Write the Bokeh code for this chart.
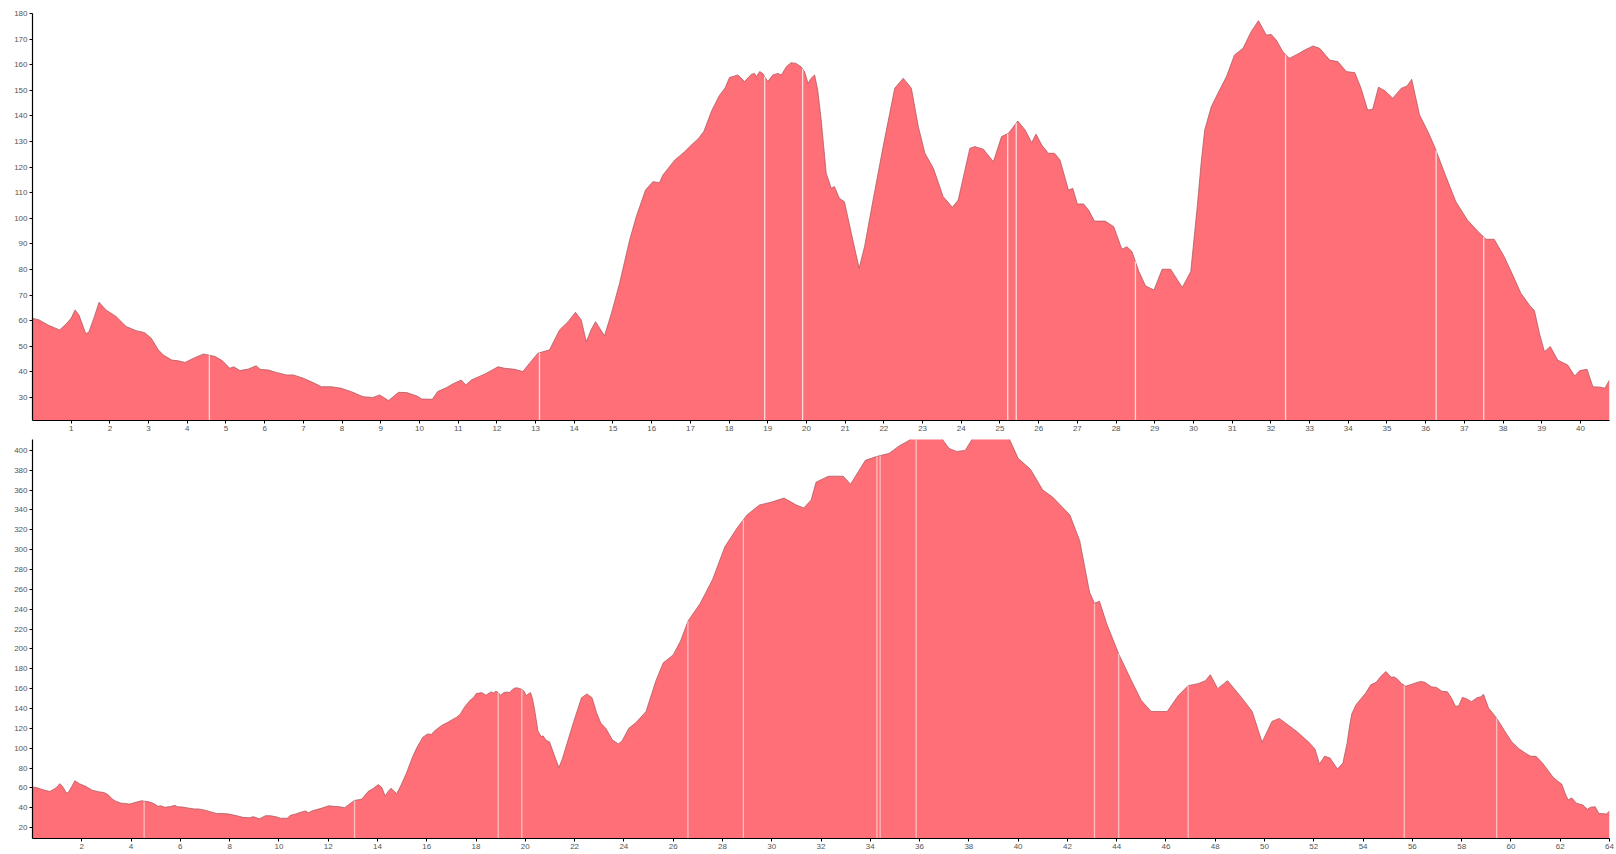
import numpy as np
from bokeh.plotting import figure
from bokeh.layouts import column
from bokeh.models import Range1d, FixedTicker
from bokeh.embed import file_html
from bokeh.resources import INLINE

# ---------------- data: top profile ----------------
top_x = [0.0, 0.17, 0.4, 0.7, 0.87, 1.0, 1.1, 1.2, 1.38, 1.46, 1.6, 1.72, 1.9, 2.16, 2.42, 2.68, 2.9,
         3.07, 3.25, 3.38, 3.6, 3.77, 3.94, 4.16, 4.42, 4.72, 4.9, 5.1, 5.2, 5.36, 5.58, 5.78, 5.88,
         6.1, 6.3, 6.56, 6.74, 7.0, 7.25, 7.47, 7.72, 7.98, 8.28, 8.54, 8.8, 8.97, 9.2, 9.46, 9.67,
         9.93, 10.06, 10.33, 10.47, 10.69, 10.86, 11.08, 11.2, 11.34, 11.5, 11.72, 12.03, 12.2, 12.46,
         12.67, 12.84, 13.06, 13.36, 13.62, 13.84, 14.03, 14.18, 14.31, 14.44, 14.55, 14.78, 14.96,
         15.17, 15.43, 15.6, 15.84, 16.03, 16.2, 16.29, 16.6, 16.85, 17.05, 17.2, 17.35, 17.55, 17.75,
         17.9, 18.01, 18.23, 18.4, 18.57, 18.66, 18.7, 18.79, 18.87, 19.0, 19.13, 19.26, 19.35, 19.48, 19.6,
         19.73, 19.86, 19.95, 20.04, 20.12, 20.21, 20.29, 20.38, 20.51, 20.64, 20.72, 20.85, 20.98,
         21.16, 21.36, 21.5, 21.72, 21.98, 22.28, 22.5, 22.71, 22.89, 23.06, 23.28, 23.53, 23.77,
         23.92, 24.22, 24.35, 24.57, 24.83, 25.04, 25.22, 25.46, 25.65, 25.82, 25.93, 26.08, 26.25,
         26.41, 26.55, 26.77, 26.88, 27.0, 27.16, 27.29, 27.44, 27.72, 27.94, 28.15, 28.28, 28.41,
         28.59, 28.76, 28.98, 29.19, 29.41, 29.71, 29.93, 30.1, 30.2, 30.29, 30.46, 30.63, 30.85,
         31.06, 31.28, 31.49, 31.68, 31.88, 32.01, 32.14, 32.31, 32.48, 32.7, 32.87, 33.09, 33.26,
         33.52, 33.73, 33.95, 34.17, 34.33, 34.5, 34.63, 34.78, 34.94, 35.15, 35.37, 35.52, 35.64,
         35.84, 36.06, 36.23, 36.49, 36.78, 37.08, 37.34, 37.56, 37.77, 38.03, 38.25, 38.46, 38.68,
         38.81, 38.94, 39.07, 39.22, 39.41, 39.67, 39.85, 39.98, 40.17, 40.32, 40.53, 40.63, 40.75]
top_y = [60.9, 60.3, 58.3, 56.4, 58.7, 61.0, 64.2, 62.2, 54.8, 55.7, 61.6, 67.2, 64.2, 61.6, 57.7, 56.1, 55.3,
         53.1, 48.6, 46.6, 44.6, 44.3, 43.7, 45.3, 47.0, 46.0, 44.4, 41.4, 42.0, 40.5, 41.1, 42.4, 41.0,
         40.7, 39.8, 38.8, 38.8, 37.5, 35.8, 34.2, 34.2, 33.6, 32.0, 30.3, 30.0, 31.0, 28.8, 32.0, 31.9,
         30.6, 29.4, 29.3, 32.3, 33.8, 35.3, 36.8, 34.9, 36.8, 37.9, 39.4, 42.0, 41.4, 41.0,
         40.1, 43.3, 47.3, 48.6, 56.4, 59.6, 63.3, 60.3, 51.8, 56.6, 59.6, 54.1, 62.9,
         74.6, 91.5, 100.6, 111.0, 114.3, 113.9, 116.9, 122.8, 126.0, 129.0, 131.0, 134.0, 142.0, 148.0,
         151.0, 155.0, 156.0, 153.4, 156.2, 156.6, 155.3, 157.3, 156.6, 153.4, 156.0, 156.6, 156.0, 159.2, 160.8,
         160.5, 159.2, 157.3, 152.7, 154.7, 156.0, 150.1, 138.4, 117.6, 111.7, 112.4, 107.8, 106.5,
         94.1, 80.5, 88.9, 107.1, 128.0, 150.8, 154.7, 150.8, 135.8, 125.4, 119.5, 108.5, 104.3,
         107.1, 127.3, 128.0, 127.0, 122.1, 131.9, 133.2, 138.0, 134.5, 129.5, 132.9, 128.6, 125.4,
         125.4, 122.8, 111.0, 111.7, 105.6, 105.6, 103.2, 98.9, 98.9, 96.7, 87.9, 88.9, 87.0,
         79.2, 73.6, 72.0, 80.1, 80.1, 73.0, 79.2, 105.0, 122.0, 134.5, 143.6, 148.8, 155.3,
         163.8, 166.4, 172.9, 177.2, 171.6, 171.8, 169.6, 165.1, 162.5, 164.2, 165.7, 167.3, 166.4,
         161.8, 161.2, 157.3, 156.9, 150.8, 142.3, 142.6, 151.2, 149.9, 146.9, 150.8, 151.7, 154.3,
         140.4, 133.8, 128.0, 117.6, 106.5, 99.3, 95.0, 91.8, 91.8, 85.0, 77.8, 70.7, 66.1,
         63.9, 55.0, 47.9, 49.9, 44.6, 42.7, 38.4, 40.5, 41.0, 34.2, 34.0, 33.6, 36.8]
top_breaks = [4.57, 13.1, 18.92, 19.9, 25.2, 25.42, 28.5, 32.38, 36.27, 37.5]

# ---------------- data: bottom profile ----------------
bot_x = [0.0, 0.17, 0.4, 0.7, 0.87, 1.0, 1.1, 1.2, 1.38, 1.46, 1.6, 1.72, 1.9, 2.16, 2.42, 2.68, 2.9,
         3.07, 3.25, 3.38, 3.6, 3.77, 3.94, 4.16, 4.42, 4.72, 4.9, 5.1, 5.2, 5.36, 5.58, 5.78, 5.88,
         6.1, 6.3, 6.56, 6.74, 7.0, 7.25, 7.47, 7.72, 7.98, 8.28, 8.54, 8.8, 8.97, 9.2, 9.46, 9.67,
         9.93, 10.06, 10.33, 10.47, 10.69, 10.86, 11.08, 11.2, 11.34, 11.5, 11.72, 12.03, 12.2, 12.46,
         12.67, 12.84, 13.06, 13.36, 13.62, 13.84, 14.03, 14.18, 14.31, 14.44, 14.55, 14.78, 14.96,
         15.17, 15.43, 15.6, 15.84, 16.03, 16.2, 16.29, 16.6, 16.85, 17.05, 17.2, 17.35, 17.55, 17.75,
         17.9, 18.01, 18.23, 18.4, 18.57, 18.66, 18.7, 18.79, 18.87, 19.0, 19.13, 19.26, 19.35, 19.48, 19.6,
         19.73, 19.86, 19.95, 20.04, 20.12, 20.21, 20.29, 20.38, 20.51, 20.64, 20.72, 20.85, 20.98,
         21.16, 21.36, 21.5, 21.72, 21.98, 22.28, 22.5, 22.71, 22.89, 23.06, 23.28, 23.53, 23.77,
         23.92, 24.2, 24.5, 24.9, 25.3, 25.6, 26.0, 26.3, 26.6, 27.1, 27.6, 28.1, 28.6,
         29.0, 29.5, 30.0, 30.5, 31.0, 31.3, 31.6, 31.8, 32.3, 32.9, 33.2, 33.8, 34.27, 34.76,
         35.2, 35.5, 35.78, 36.3, 36.84, 37.2, 37.5, 37.85, 38.2, 38.8, 39.2, 39.6, 40.0, 40.5,
         41.0, 41.4, 42.1, 42.5, 42.9, 43.1, 43.3, 43.6, 44.1, 44.6, 45.0, 45.4, 46.05, 46.5,
         46.9, 47.3, 47.6, 47.8, 48.1, 48.5, 49.0, 49.5, 49.9, 50.3, 50.6, 51.3, 51.8, 52.05,
         52.23, 52.44, 52.66, 52.96, 53.18, 53.35, 53.45, 53.54, 53.71, 53.88, 54.1,
         54.31, 54.53, 54.74, 54.93, 55.13, 55.26, 55.39, 55.56, 55.73, 55.95, 56.12, 56.34, 56.51,
         56.77, 56.98, 57.2, 57.42, 57.58, 57.75, 57.88, 58.03, 58.19, 58.4, 58.62, 58.77, 58.89,
         59.09, 59.31, 59.48, 59.74, 60.03, 60.33, 60.59, 60.81, 61.02, 61.28, 61.5, 61.71, 61.93,
         62.06, 62.19, 62.32, 62.47, 62.66, 62.92, 63.1, 63.23, 63.42, 63.57, 63.78, 63.88, 64.0]
bot_y = [60.9, 60.3, 58.3, 56.4, 58.7, 61.0, 64.2, 62.2, 54.8, 55.7, 61.6, 67.2, 64.2, 61.6, 57.7, 56.1, 55.3,
         53.1, 48.6, 46.6, 44.6, 44.3, 43.7, 45.3, 47.0, 46.0, 44.4, 41.4, 42.0, 40.5, 41.1, 42.4, 41.0,
         40.7, 39.8, 38.8, 38.8, 37.5, 35.8, 34.2, 34.2, 33.6, 32.0, 30.3, 30.0, 31.0, 28.8, 32.0, 31.9,
         30.6, 29.4, 29.3, 32.3, 33.8, 35.3, 36.8, 34.9, 36.8, 37.9, 39.4, 42.0, 41.4, 41.0,
         40.1, 43.3, 47.3, 48.6, 56.4, 59.6, 63.3, 60.3, 51.8, 56.6, 59.6, 54.1, 62.9,
         74.6, 91.5, 100.6, 111.0, 114.3, 113.9, 116.9, 122.8, 126.0, 129.0, 131.0, 134.0, 142.0, 148.0,
         151.0, 155.0, 156.0, 153.4, 156.2, 156.6, 155.3, 157.3, 156.6, 153.4, 156.0, 156.6, 156.0, 159.2, 160.8,
         160.5, 159.2, 157.3, 152.7, 154.7, 156.0, 150.1, 138.4, 117.6, 111.7, 112.4, 107.8, 106.5,
         94.1, 80.5, 88.9, 107.1, 128.0, 150.8, 154.7, 150.8, 135.8, 125.4, 119.5, 108.5, 104.3,
         107.1, 120.0, 126.0, 137.0, 168.0, 186.0, 194.0, 208.0, 228.0, 246.0, 270.0, 303.0, 322.0,
         335.0, 345.0, 348.0, 352.0, 345.0, 342.0, 350.0, 368.0, 374.0, 374.0, 366.0, 390.0, 394.0, 397.0,
         405.0, 409.0, 414.0, 416.0, 414.0, 402.0, 399.0, 400.0, 414.0, 416.0, 416.0, 414.0, 392.0, 381.0,
         360.0, 353.0, 335.0, 309.0, 257.0, 246.0, 248.0, 225.0, 194.0, 168.0, 148.0, 137.0, 137.0, 153.0,
         163.0, 165.0, 168.0, 174.0, 160.0, 168.0, 153.0, 137.0, 106.0, 127.0, 130.0, 117.0, 106.0, 99.0,
         84.0, 92.0, 90.0, 79.0, 85.0, 105.0, 122.0, 134.5, 143.6, 148.8, 155.3,
         163.8, 166.4, 172.9, 177.2, 171.6, 171.8, 169.6, 165.1, 162.5, 164.2, 165.7, 167.3, 166.4,
         161.8, 161.2, 157.3, 156.9, 150.8, 142.3, 142.6, 151.2, 149.9, 146.9, 150.8, 151.7, 154.3,
         140.4, 133.8, 128.0, 117.6, 106.5, 99.3, 95.0, 91.8, 91.8, 85.0, 77.8, 70.7, 66.1,
         63.9, 55.0, 47.9, 49.9, 44.6, 42.7, 38.4, 40.5, 41.0, 34.2, 34.0, 33.6, 36.8]
bot_breaks = [4.53, 13.07, 18.9, 19.86, 26.6, 28.85, 34.27, 34.4, 35.86, 43.1, 44.08, 46.9, 55.67, 59.42]

top_xticks = list(range(1, 41))
top_yticks = list(range(30, 181, 10))
bot_xticks = list(range(2, 65, 2))
bot_yticks = list(range(20, 401, 20))

FILL = "#ff6f77"
EDGE = "#a8545a"
FONT = "Liberation Sans"


def make(xs, ys, breaks, xr, yr, xt, yt, height, left, top, bottom, brk_alpha):
    p = figure(width=1615, height=height, x_range=Range1d(*xr), y_range=Range1d(*yr),
               output_backend="svg", toolbar_location=None,
               min_border_left=left, min_border_right=6,
               min_border_top=top, min_border_bottom=bottom)
    p.varea(x=xs, y1=0, y2=ys, fill_color=FILL, fill_alpha=1.0)
    p.line(xs, ys, line_color=EDGE, line_width=0.9, line_alpha=0.8)
    by = np.interp(breaks, xs, ys)
    p.segment(x0=breaks, y0=0, x1=breaks, y1=by, line_color="white",
              line_width=1.3, line_alpha=brk_alpha)
    p.grid.visible = False
    p.outline_line_color = None
    p.background_fill_color = "white"
    p.border_fill_color = "white"
    p.xaxis.ticker = FixedTicker(ticks=xt)
    p.yaxis.ticker = FixedTicker(ticks=yt)
    for ax in (p.xaxis[0], p.yaxis[0]):
        ax.axis_line_color = "black"
        ax.axis_line_width = 1.2
        ax.major_tick_line_color = "black"
        ax.major_tick_out = 3
        ax.major_tick_in = 0
        ax.minor_tick_line_color = None
        ax.major_label_text_font = FONT
        ax.major_label_text_font_size = "8px"
        ax.major_label_text_color = "#555555"
        ax.major_label_standoff = 2
    return p


p1 = make(top_x, top_y, top_breaks, (0, 40.75), (21, 180), top_xticks, top_yticks,
          height=436, left=32, top=13, bottom=16, brk_alpha=0.75)
p2 = make(bot_x, bot_y, bot_breaks, (0, 64), (9, 411), bot_xticks, bot_yticks,
          height=417, left=28, top=3, bottom=15, brk_alpha=0.55)

layout = column(p1, p2, spacing=0)
open("out.html", "w").write(file_html(layout, INLINE))
